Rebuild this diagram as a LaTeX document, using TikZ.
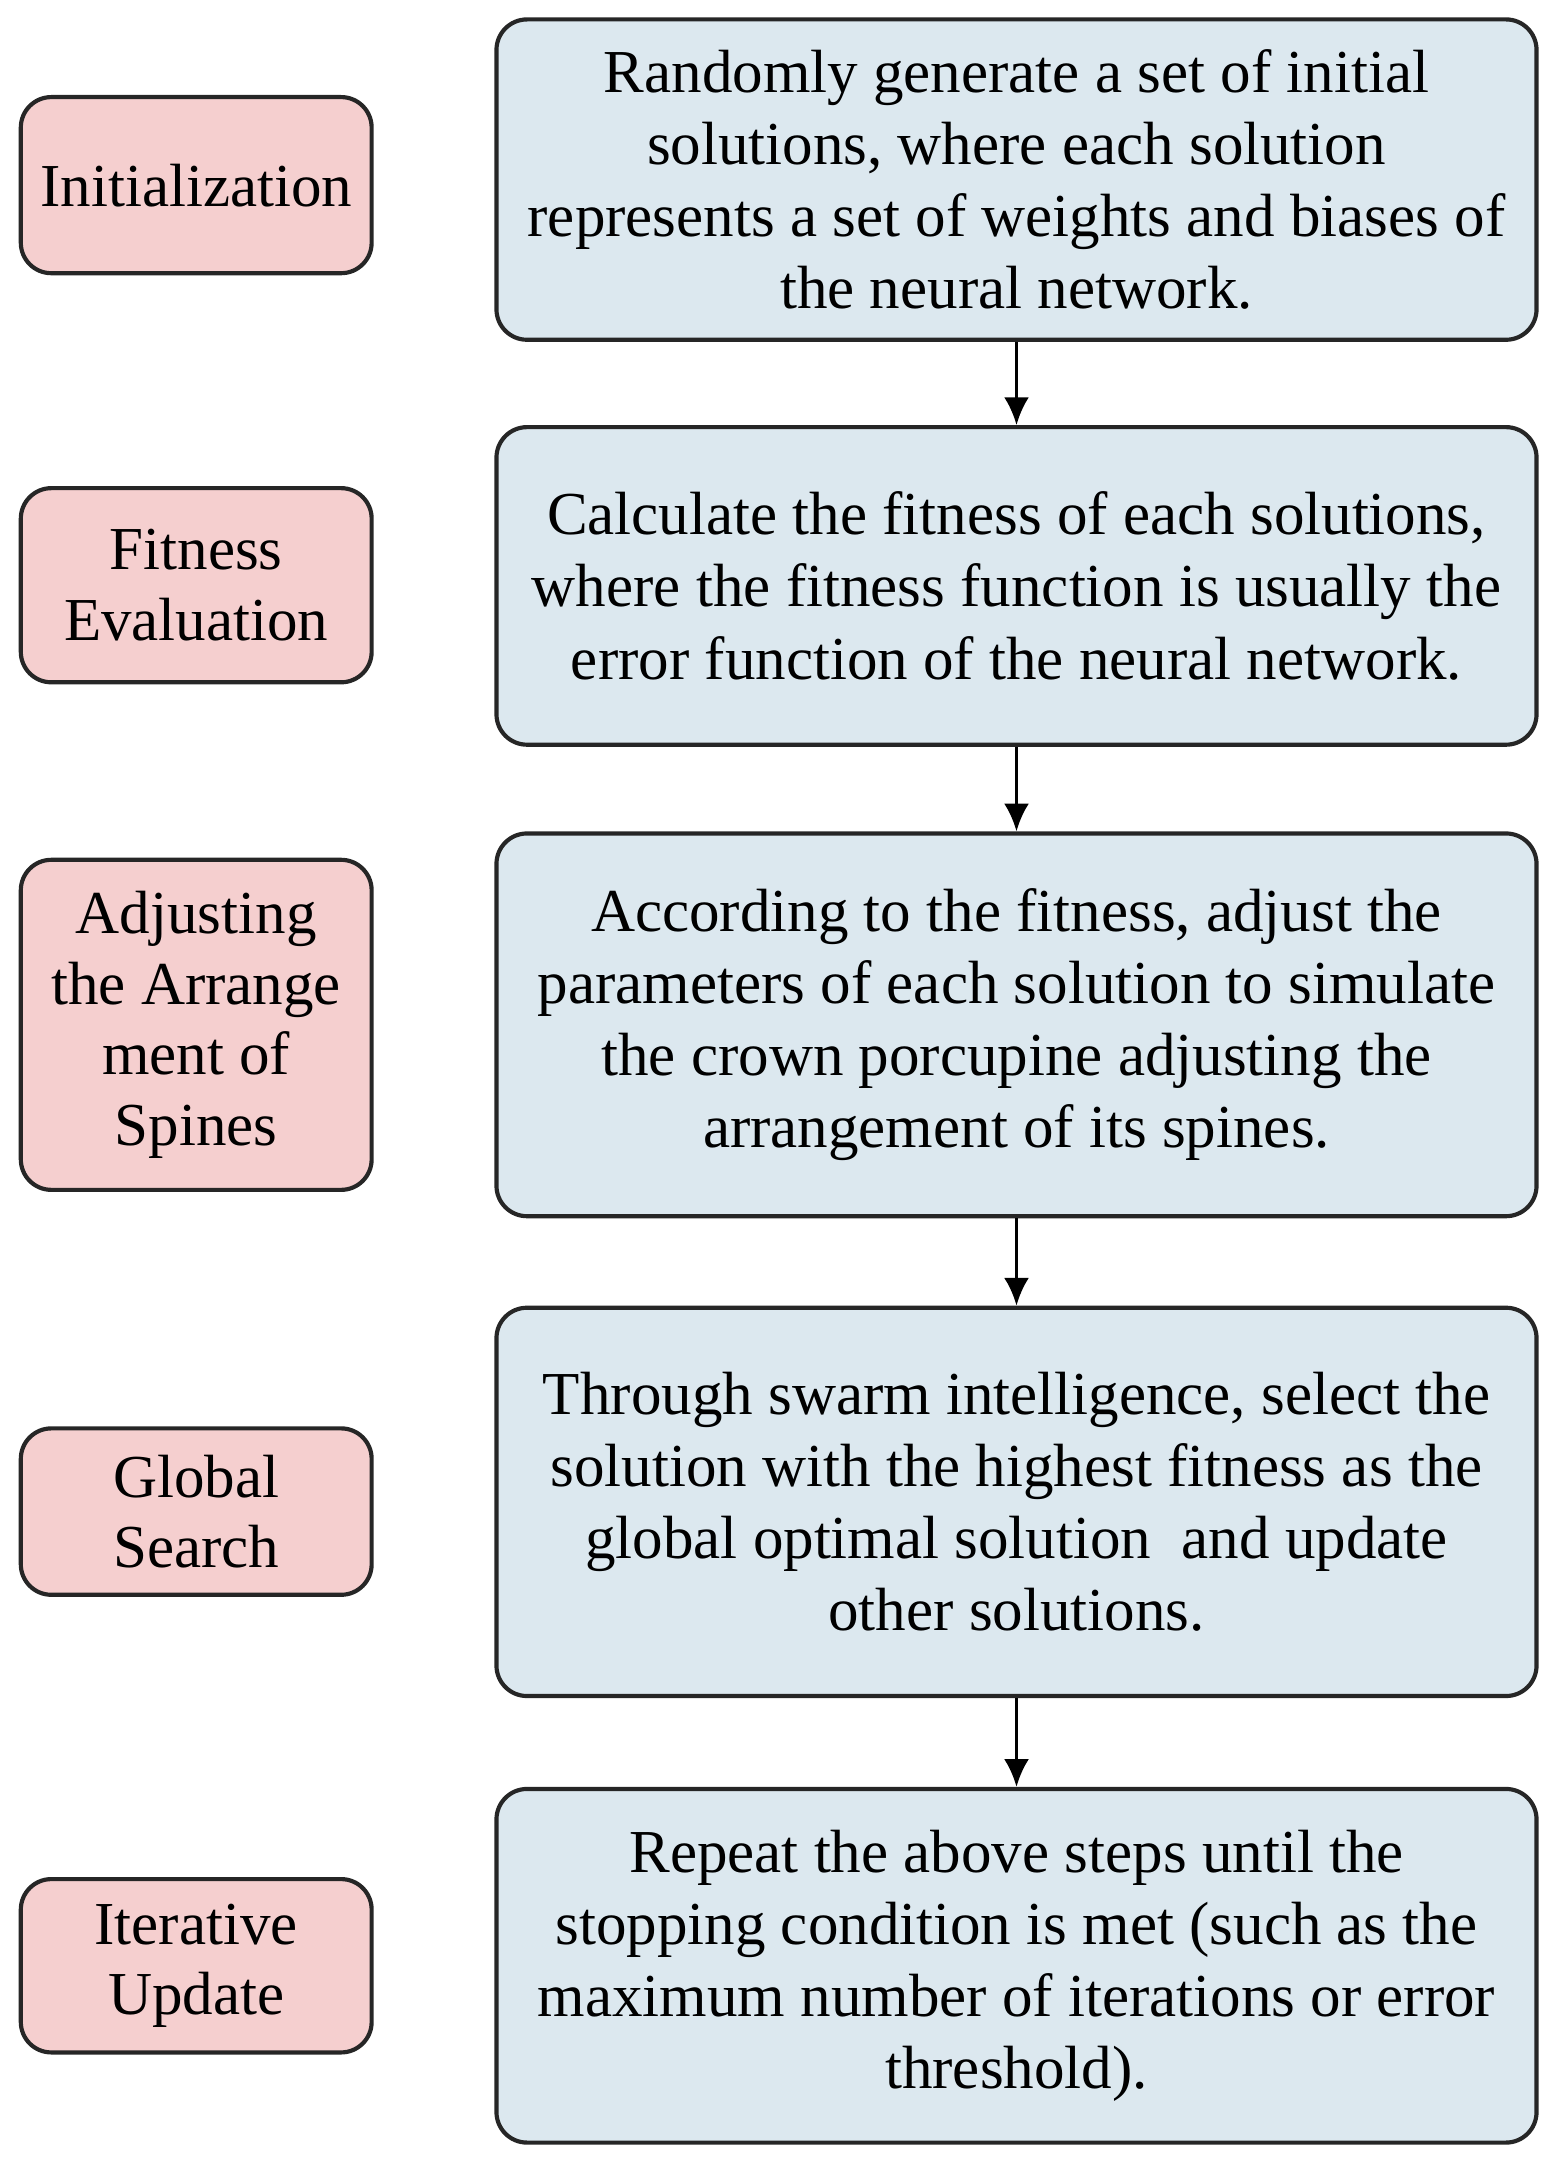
\documentclass[tikz,border=0pt]{standalone}
\usepackage{fontspec}
\setmainfont{Liberation Serif}
\usetikzlibrary{arrows.meta}
\definecolor{pinkf}{HTML}{F5CFCF}
\definecolor{bluef}{HTML}{DCE8EF}
\begin{document}
\begin{tikzpicture}[x=1pt,y=-1pt,
 lbox/.style={draw=black!85,line width=3pt,rounded corners=22pt,fill=pinkf,align=center,font=\fontsize{44}{51}\selectfont},
 rbox/.style={draw=black!85,line width=3pt,rounded corners=22pt,fill=bluef,align=center,font=\fontsize{44}{52}\selectfont},
 arr/.style={line width=2.5pt,-{Latex[length=20pt,width=18pt]}}]
\useasboundingbox (0,0) rectangle (1130,1572);
\node[lbox,minimum width=253pt,minimum height=127pt] (l1) at (141.5,133.5) {Initialization};
\node[lbox,minimum width=253pt,minimum height=140pt] (l2) at (141.5,422) {Fitness\\Evaluation};
\node[lbox,minimum width=253pt,minimum height=238pt] (l3) at (141.5,739) {Adjusting\\the Arrange\\ment of\\Spines};
\node[lbox,minimum width=253pt,minimum height=120pt] (l4) at (141.5,1090) {Global\\Search};
\node[lbox,minimum width=253pt,minimum height=125pt] (l5) at (141.5,1417.5) {Iterative\\Update};
\node[rbox,minimum width=750pt,minimum height=231pt] (r1) at (733,129.5) {Randomly generate a set of initial\\solutions, where each solution\\represents a set of weights and biases of\\the neural network.};
\node[rbox,minimum width=750pt,minimum height=229pt] (r2) at (733,422.5) {Calculate the fitness of each solutions,\\where the fitness function is usually the\\error function of the neural network.};
\node[rbox,minimum width=750pt,minimum height=276pt] (r3) at (733,739) {According to the fitness, adjust the\\parameters of each solution to simulate\\the crown porcupine adjusting the\\arrangement of its spines.};
\node[rbox,minimum width=750pt,minimum height=280pt] (r4) at (733,1083) {Through swarm intelligence, select the\\solution with the highest fitness as the\\global optimal solution\ \ and update\\other solutions.};
\node[rbox,minimum width=750pt,minimum height=255pt] (r5) at (733,1417.5) {Repeat the above steps until the\\stopping condition is met (such as the\\maximum number of iterations or error\\threshold).};
\draw[arr] (r1) -- (r2);
\draw[arr] (r2) -- (r3);
\draw[arr] (r3) -- (r4);
\draw[arr] (r4) -- (r5);
\end{tikzpicture}
\end{document}
